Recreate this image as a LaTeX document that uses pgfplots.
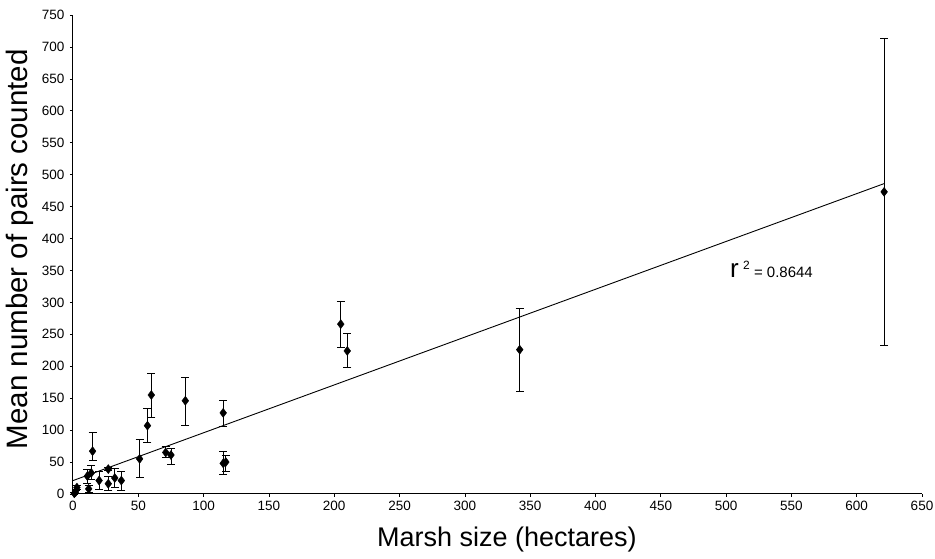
\documentclass[border=0pt]{standalone}
\usepackage{pgfplots}
\usepackage{pgfplotstable}
\pgfplotsset{compat=1.18}
\usepackage{fontspec}
\setmainfont{Liberation Sans}

% marsh size, mean pairs, error up, error down
\pgfplotstableread{
x    y    ep   em
1    1    1    1
2    3    2    2
3    10   3    3
11   28   10   11
12   8    5    5
14   33   12   11
15   67   30   15
20   21   14   14
27   39   2    2
27   16   11   11
32   25   15   15
37   21   14   15
51   55   30   29
57   107  27   27
60   155  33   35
71   65   10   8
75   61   10   15
86   146  37   38
115  127  20   21
115  48   19   18
117  50   11   14
205  266  35   36
210  224  27   26
342  226  65   65
621  473  240  241
}\marsh

\begin{document}
\begin{tikzpicture}
\begin{axis}[
  scale only axis,
  width=849pt, height=479pt,
  xmin=0, xmax=650, ymin=0, ymax=750,
  xtick distance=50, ytick distance=50,
  axis x line*=bottom, axis y line*=left,
  axis line style={black, line width=1pt},
  tick align=outside, major tick length=3pt,
  tick style={black, line width=0.6pt},
  tick label style={font=\fontsize{13.5}{14}\selectfont},
  yticklabel style={xshift=-2pt},
  xticklabel style={yshift=-1pt},
  /pgf/number format/assume math mode=true,
  xlabel={Marsh size (hectares)},
  ylabel={Mean number of pairs counted},
  xlabel style={font=\fontsize{27}{29}\selectfont,
    at={(axis description cs:0.511,-0.095)}, anchor=center},
  ylabel style={font=\fontsize{29.5}{31}\selectfont,
    at={(axis description cs:-0.062,0.511)}, anchor=center},
  clip=false,
]
\addplot[black, line width=0.9pt] coordinates {(0,21) (621,486)};
\addplot[only marks, mark=diamond*, mark size=4.5pt, black,
  error bars/.cd, y dir=both, y explicit,
  error bar style={black, line width=0.9pt},
  error mark options={black, line width=0.9pt, rotate=90, mark size=4pt}]
  table[x=x, y=y, y error plus=ep, y error minus=em] {\marsh};
\node[anchor=west, inner sep=0pt] at (axis cs:503,352)
  {\fontsize{26}{26}\selectfont r\,\raisebox{8pt}{\fontsize{12}{12}\selectfont 2}\fontsize{15}{15}\selectfont{} = 0.8644};
\end{axis}
\pgfresetboundingbox
\path[use as bounding box] ([shift={(-73pt,-65pt)}]current axis.south west)
  rectangle ([shift={(13pt,15pt)}]current axis.north east);
\end{tikzpicture}
\end{document}
